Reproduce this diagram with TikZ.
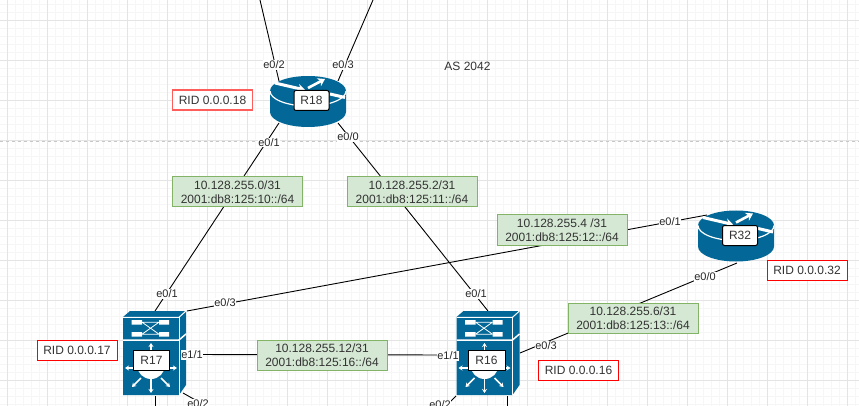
\documentclass[tikz,border=0pt]{standalone}
\usepackage{fontspec}
\setmainfont{Liberation Sans}
\usetikzlibrary{calc,arrows.meta}
\pgfdeclarelayer{gridlayer}
\pgfdeclarelayer{links}
\pgfsetlayers{gridlayer,links,main}
\definecolor{cisco}{HTML}{036897}
\definecolor{txt}{HTML}{333333}
\definecolor{gridmaj}{HTML}{E4E4E4}
\definecolor{gridmin}{HTML}{F6F6F6}
\definecolor{netb}{HTML}{82B366}
\definecolor{netf}{HTML}{D5E8D4}
\definecolor{ridlight}{HTML}{FF5C5C}
\tikzset{
  net/.style={draw=netb,fill=netf,text=txt,minimum width=130pt,minimum height=30pt,inner sep=0pt,align=center,font=\fontsize{12}{15}\selectfont,line width=1pt},
  rid/.style={draw=red,fill=white,text=txt,minimum width=80pt,minimum height=20pt,inner sep=0pt,font=\fontsize{12}{14}\selectfont,line width=1pt},
  ridsoft/.style={rid,draw=ridlight,line width=1.2pt},
  port/.style={fill=white,text=black!85,inner sep=0.5pt,font=\fontsize{11}{12}\selectfont},
  devlabel/.style={draw=black,fill=white,text=txt,minimum width=35pt,minimum height=20pt,inner sep=0pt,font=\fontsize{12}{14}\selectfont,line width=1pt},
  link/.style={draw=black,line width=0.9pt},
  wh/.style={white,line width=1pt},
  wha/.style={white,line width=1.5pt,-{Stealth[length=4pt,width=5pt]}},
}
\newcommand{\routericon}[2]{%
  \begin{scope}[shift={(#1,#2)}]
    \fill[cisco] (-38,-10.5) .. controls (-38,-18.8) and (-21,-25.5) .. (0,-25.5)
      .. controls (21,-25.5) and (38,-18.8) .. (38,-10.5) -- (38,10.5)
      .. controls (38,18.8) and (21,25.5) .. (0,25.5)
      .. controls (-21,25.5) and (-38,18.8) .. (-38,10.5) -- cycle;
    \draw[wh,line width=1.2pt] (-38,-10.5) .. controls (-38,-2.2) and (-21,4.5) .. (0,4.5)
      .. controls (21,4.5) and (38,-2.2) .. (38,-10.5);
    \draw[white,line width=3pt,-{Stealth[length=7pt,width=9pt]}] (-33,-18.5) -- (-3,-11.5);
    \draw[white,line width=2.6pt,-{Stealth[length=7pt,width=9pt]}] (0,-13.5) -- (17,-22.5);
    \draw[white,line width=3pt] (22,-7.5) -- (37,-4);
  \end{scope}}
\newcommand{\switchicon}[2]{%
  \begin{scope}[shift={(#1,#2)}]
    \fill[cisco] (0,0) -- (7,-6) -- (63,-6) -- (63,68) -- (56,78) -- (0,78) -- cycle;
    \draw[wh] (0,0.3) -- (56,0.3) -- (63,-6);
    \draw[wh] (56,0) -- (56,78);
    \draw[white,line width=1.5pt] (0,23) -- (56,23) -- (63,17);
    \fill[white] (8.5,3) rectangle (19,7.5) (36,3) rectangle (46,7.5)
      (8.5,15) rectangle (19,19.5) (36,15) rectangle (46,19.5);
    \draw[wh,line width=0.8pt] (19,5.2) -- (36,5.2) (19,17.2) -- (36,17.2)
      (19,5.2) -- (36,17.2) (19,17.2) -- (36,5.2);
    \fill[white] (28,48) circle[radius=14];
    \draw[wha] (28,33) -- (28,26);
    \draw[wha] (11,51) -- (2,51);
    \draw[wha] (45,51) -- (54,51);
    \draw[wha] (28,62) -- (28,76);
    \draw[wha] (18,61) -- (9,70);
    \draw[wha] (38,61) -- (47,70);
  \end{scope}}
\begin{document}
\begin{tikzpicture}[x=1pt,y=-1pt]
\useasboundingbox (0,0) rectangle (859,406);
\begin{pgfonlayer}{gridlayer}
  \fill[white] (0,0) rectangle (859,406);
  \foreach \k in {0,...,106} \draw[gridmin,line width=0.8pt] ({7+8*\k},0) -- ({7+8*\k},406);
  \foreach \k in {0,...,50} \draw[gridmin,line width=0.8pt] (0,{4+8*\k}) -- (859,{4+8*\k});
  \foreach \k in {0,...,21} \draw[gridmaj,line width=0.8pt] ({7+40*\k},0) -- ({7+40*\k},406);
  \foreach \k in {0,...,9} \draw[gridmaj,line width=0.8pt] (0,{20+40*\k}) -- (859,{20+40*\k});
  \draw[black!22,line width=0.8pt,dash pattern=on 3pt off 3pt] (0,141) -- (859,141);
\end{pgfonlayer}

% devices
\routericon{308}{101.5}
\routericon{736}{236}
\switchicon{123}{317}
\switchicon{456.5}{317}
\node[devlabel,rounded corners=2pt] (R18) at (311.5,100.5) {R18};
\node[devlabel,rounded corners=2pt] (R32) at (740,235.5) {R32};
\node[devlabel,minimum width=36pt] (R17) at (151.5,360) {R17};
\node[devlabel,minimum width=37pt] (R16) at (486.5,360) {R16};

% free ends
\coordinate (top1) at (260,0);
\coordinate (top2) at (373,0);
\coordinate (low1) at (206,406);
\coordinate (low2) at (155,406);
\coordinate (low3) at (507,406);
\coordinate (low4) at (446,406);

% subnets
\node[net] (n1) at (237.5,192) {10.128.255.0/31\\[-1pt]2001:db8:125:10::/64};
\node[net] (n2) at (412,192) {10.128.255.2/31\\[-1pt]2001:db8:125:11::/64};
\node[net] (n3) at (562,230) {10.128.255.4 /31\\[-1pt]2001:db8:125:12::/64};
\node[net] (n4) at (633,318) {10.128.255.6/31\\[-1pt]2001:db8:125:13::/64};
\node[net] (n5) at (322,355) {10.128.255.12/31\\[-1pt]2001:db8:125:16::/64};

% router ids
\node[ridsoft] (r18) at (212.5,100) {RID 0.0.0.18};
\node[rid] (r17) at (77,350) {RID 0.0.0.17};
\node[rid] (r16) at (578.5,370) {RID 0.0.0.16};
\node[rid] (r32) at (807,270) {RID 0.0.0.32};
\node[text=txt,font=\fontsize{12}{14}\selectfont] (as) at (467.5,66.5) {AS 2042};

% port labels
\node[port] (p1) at (274,65) {e0/2};
\node[port] (p2) at (343,65) {e0/3};
\node[port] (p3) at (269,142.5) {e0/1};
\node[port] (p4) at (348,137) {e0/0};
\node[port] (p5) at (167,294) {e0/1};
\node[port] (p6) at (476,294) {e0/1};
\node[port] (p7) at (225,303) {e0/3};
\node[port] (p8) at (670,222) {e0/1};
\node[port] (p9) at (192,355) {e1/1};
\node[port] (p10) at (448,356) {e1/1};
\node[port] (p11) at (546,346) {e0/3};
\node[port] (p12) at (705,277) {e0/0};
\node[port] (p13) at (198,404) {e0/2};
\node[port] (p14) at (440,405) {e0/2};

\begin{pgfonlayer}{links}
  \draw[link] (top1) -- ($(R18)+(-32.5,-19.5)$);
  \draw[link] (top2) -- ($(R18)+(26.5,-19.5)$);
  \draw[link] ($(R18)+(-32.5,22.5)$) -- ($(R17)+(3.5,-49)$);
  \draw[link] ($(R18)+(26.5,22.5)$) -- ($(R16)+(1.5,-49)$);
  \draw[link] ($(R17)+(35.5,-49)$) -- ($(R32)+(-33,-20.5)$);
  \draw[link] ($(R17)+(35.5,-5.5)$) -- ($(R16)+(-36.5,-5)$);
  \draw[link] ($(R16)+(33.5,-7)$) -- ($(R32)+(-3,27.5)$);
  \draw[link] ($(R17)+(31.5,33)$) -- (low1);
  \draw[link] ($(R17)+(3.5,36)$) -- (low2);
  \draw[link] ($(R16)+(20.5,36)$) -- (low3);
  \draw[link] ($(R16)+(-30.5,36)$) -- (low4);
\end{pgfonlayer}
\end{tikzpicture}
\end{document}
